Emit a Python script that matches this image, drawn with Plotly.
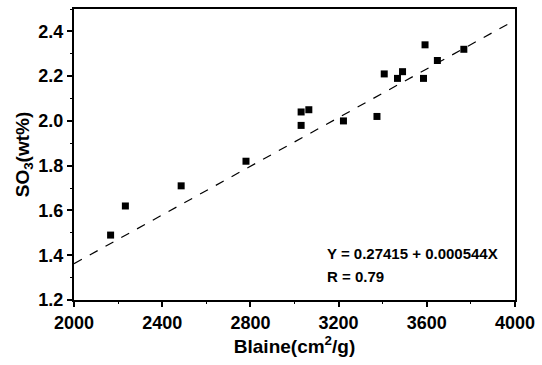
import plotly.graph_objects as go

blaine = [2166, 2233, 2486, 2780, 3030, 3030, 3065, 3222, 3374, 3407, 3467, 3490, 3585, 3592, 3648, 3768]
so3 = [1.49, 1.62, 1.71, 1.82, 1.98, 2.04, 2.05, 2.00, 2.02, 2.21, 2.19, 2.22, 2.19, 2.34, 2.27, 2.32]
intercept = 0.27415
slope = 0.000544
fit_x = [2000, 4000]
fit_y = [intercept + slope * v for v in fit_x]
x_ticks = [2000, 2400, 2800, 3200, 3600, 4000]
x_minor = [2200, 2600, 3000, 3400, 3800]
y_ticks = [1.2, 1.4, 1.6, 1.8, 2.0, 2.2, 2.4]
y_minor = [1.3, 1.5, 1.7, 1.9, 2.1, 2.3, 2.5]
x_range = [2000, 4000]
y_range = [1.2, 2.5]

fnt = "Liberation Sans, Arial, sans-serif"
fig = go.Figure()
fig.add_trace(go.Scatter(x=fit_x, y=fit_y, mode="lines",
                         line=dict(color="black", width=1.2, dash="dash"), showlegend=False))
fig.add_trace(go.Scatter(x=blaine, y=so3, mode="markers",
                         marker=dict(symbol="square", size=7, color="black"), showlegend=False))

fig.update_layout(
    xaxis=dict(range=x_range, tickvals=x_ticks, ticktext=[f"<b>{v}</b>" for v in x_ticks],
               showline=True, linecolor="black", linewidth=2, mirror=True,
               ticks="outside", ticklen=5, tickwidth=1.5, tickcolor="black",
               showgrid=False, zeroline=False,
               tickfont=dict(family=fnt, size=18, color="black"),
               title=dict(text="<b>Blaine(cm<sup>2</sup>/g)</b>", font=dict(family=fnt, size=19, color="black"), standoff=2)),
    yaxis=dict(range=y_range, tickvals=y_ticks, ticktext=[f"<b>{v:.1f}</b>" for v in y_ticks],
               showline=True, linecolor="black", linewidth=2, mirror=True,
               ticks="outside", ticklen=5, tickwidth=1.5, tickcolor="black",
               showgrid=False, zeroline=False,
               tickfont=dict(family=fnt, size=18, color="black"),
               title=dict(text="<b>SO<sub>3</sub>(wt%)</b>", font=dict(family=fnt, size=19, color="black"), standoff=4)),
    xaxis2=dict(range=x_range, overlaying="x", side="bottom", anchor="y", tickvals=x_minor,
                ticks="outside", ticklen=3, tickwidth=1.2, tickcolor="black",
                showticklabels=False, showgrid=False, zeroline=False, showline=False),
    yaxis2=dict(range=y_range, overlaying="y", side="left", anchor="x", tickvals=y_minor,
                ticks="outside", ticklen=3, tickwidth=1.2, tickcolor="black",
                showticklabels=False, showgrid=False, zeroline=False, showline=False),
)
fig.add_trace(go.Scatter(x=[None], y=[None], xaxis="x2", yaxis="y2", showlegend=False, hoverinfo="skip"))
fig.add_annotation(xref="paper", yref="paper", x=0.57, y=0.125, xanchor="left", yanchor="bottom",
                   text="<b>Y = 0.27415 + 0.000544X</b>", showarrow=False,
                   font=dict(family=fnt, size=15, color="black"))
fig.add_annotation(xref="paper", yref="paper", x=0.57, y=0.045, xanchor="left", yanchor="bottom",
                   text="<b>R = 0.79</b>", showarrow=False,
                   font=dict(family=fnt, size=15, color="black"))
fig.update_layout(width=542, height=365, margin=dict(l=74, r=23, t=7, b=65),
                  plot_bgcolor="white", paper_bgcolor="white")
fig.write_html("out.html")
